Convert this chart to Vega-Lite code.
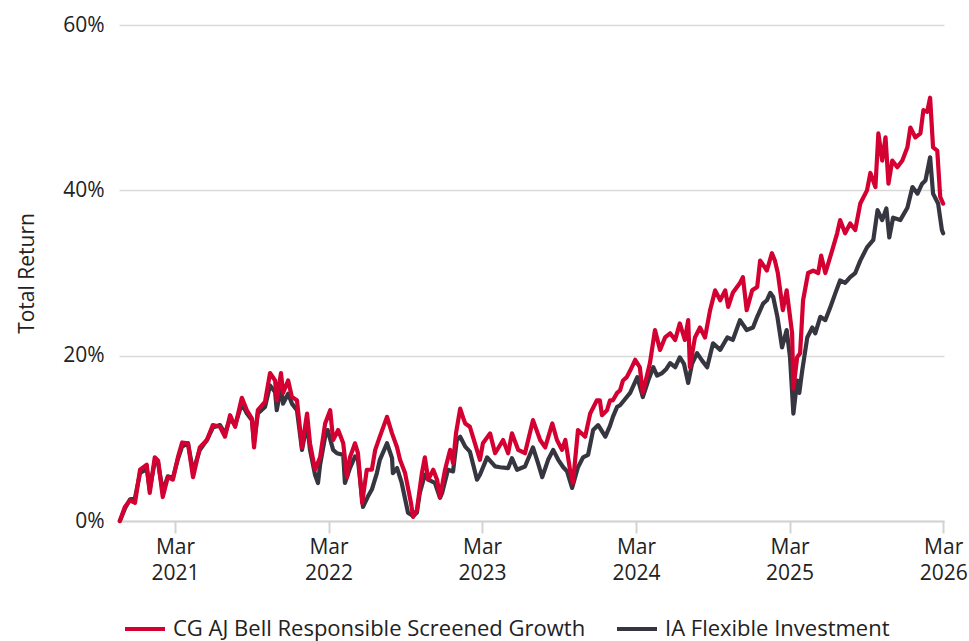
{
  "$schema": "https://vega.github.io/schema/vega-lite/v6.json",
  "width": 825,
  "height": 496,
  "autosize": "none",
  "padding": {"left": 119, "top": 25, "right": 25, "bottom": 120},
  "background": "white",
  "config": {
    "view": {"stroke": null},
    "font": "Open Sans",
    "axis": {
      "labelFont": "Open Sans",
      "labelFontSize": 21,
      "labelColor": "#222222",
      "titleFont": "Open Sans",
      "titleFontSize": 21,
      "titleFontWeight": "normal",
      "titleColor": "#222222"
    },
    "legend": {"labelFont": "Open Sans"}
  },
  "datasets": {
    "cg": [
      {"d":"2020-10-21","v":0},{"d":"2020-11-02","v":1.7},{"d":"2020-11-14","v":2.5},{"d":"2020-11-26","v":2.2},
      {"d":"2020-12-08","v":6.2},{"d":"2020-12-24","v":6.8},{"d":"2020-12-31","v":3.4},{"d":"2021-01-12","v":7.7},
      {"d":"2021-01-20","v":7.3},{"d":"2021-01-31","v":2.9},{"d":"2021-02-12","v":5.3},{"d":"2021-02-24","v":5.0},
      {"d":"2021-03-08","v":7.7},{"d":"2021-03-18","v":9.5},{"d":"2021-04-01","v":9.4},{"d":"2021-04-13","v":5.3},
      {"d":"2021-04-29","v":8.9},{"d":"2021-05-16","v":9.8},{"d":"2021-05-30","v":11.6},{"d":"2021-06-16","v":11.4},
      {"d":"2021-06-28","v":10.2},{"d":"2021-07-10","v":12.8},{"d":"2021-07-22","v":11.4},{"d":"2021-08-07","v":14.9},
      {"d":"2021-08-19","v":13.4},{"d":"2021-08-31","v":12.4},{"d":"2021-09-05","v":8.9},{"d":"2021-09-14","v":13.4},
      {"d":"2021-10-01","v":14.4},{"d":"2021-10-13","v":17.9},{"d":"2021-10-25","v":17.0},{"d":"2021-10-29","v":14.6},
      {"d":"2021-11-08","v":17.9},{"d":"2021-11-13","v":15.5},{"d":"2021-11-25","v":17.0},{"d":"2021-12-04","v":15.0},
      {"d":"2021-12-16","v":14.6},{"d":"2021-12-28","v":8.9},{"d":"2022-01-09","v":13.0},{"d":"2022-01-16","v":9.4},
      {"d":"2022-01-28","v":6.2},{"d":"2022-02-09","v":7.7},{"d":"2022-02-21","v":11.8},{"d":"2022-03-05","v":13.4},
      {"d":"2022-03-12","v":9.8},{"d":"2022-03-24","v":11.0},{"d":"2022-04-05","v":9.4},{"d":"2022-04-14","v":5.3},
      {"d":"2022-04-21","v":7.7},{"d":"2022-05-03","v":9.4},{"d":"2022-05-10","v":8.2},{"d":"2022-05-20","v":2.2},
      {"d":"2022-05-31","v":6.2},{"d":"2022-06-12","v":6.2},{"d":"2022-06-20","v":8.6},{"d":"2022-07-01","v":10.2},
      {"d":"2022-07-18","v":12.6},{"d":"2022-07-30","v":10.6},{"d":"2022-08-11","v":8.9},{"d":"2022-08-18","v":7.4},
      {"d":"2022-08-30","v":5.8},{"d":"2022-09-13","v":2.2},{"d":"2022-09-18","v":0.5},{"d":"2022-09-27","v":1.3},
      {"d":"2022-10-09","v":5.8},{"d":"2022-10-16","v":7.7},{"d":"2022-10-24","v":5.0},{"d":"2022-11-05","v":6.2},
      {"d":"2022-11-14","v":5.0},{"d":"2022-11-21","v":2.9},{"d":"2022-12-03","v":6.2},{"d":"2022-12-15","v":8.6},
      {"d":"2022-12-22","v":7.0},{"d":"2022-12-29","v":10.6},{"d":"2023-01-08","v":13.6},{"d":"2023-01-15","v":12.5},
      {"d":"2023-01-20","v":11.8},{"d":"2023-01-31","v":11.4},{"d":"2023-02-12","v":9.4},{"d":"2023-02-24","v":7.4},
      {"d":"2023-03-03","v":9.4},{"d":"2023-03-20","v":10.6},{"d":"2023-04-01","v":8.2},{"d":"2023-04-20","v":9.8},
      {"d":"2023-05-02","v":8.2},{"d":"2023-05-11","v":10.6},{"d":"2023-05-26","v":8.6},{"d":"2023-06-11","v":8.2},
      {"d":"2023-06-30","v":12.2},{"d":"2023-07-17","v":9.8},{"d":"2023-07-29","v":8.9},{"d":"2023-08-15","v":11.8},
      {"d":"2023-08-26","v":9.8},{"d":"2023-09-07","v":8.6},{"d":"2023-09-15","v":9.8},{"d":"2023-09-26","v":6.2},
      {"d":"2023-10-03","v":4.6},{"d":"2023-10-15","v":11.0},{"d":"2023-11-01","v":10.2},{"d":"2023-11-13","v":13.0},
      {"d":"2023-11-29","v":14.6},{"d":"2023-12-06","v":14.6},{"d":"2023-12-11","v":12.8},{"d":"2023-12-23","v":13.4},
      {"d":"2023-12-30","v":14.6},{"d":"2024-01-06","v":14.6},{"d":"2024-01-16","v":15.5},{"d":"2024-01-23","v":15.8},
      {"d":"2024-01-30","v":17.0},{"d":"2024-02-08","v":17.4},{"d":"2024-02-16","v":18.2},{"d":"2024-02-28","v":19.5},
      {"d":"2024-03-10","v":18.6},{"d":"2024-03-17","v":15.5},{"d":"2024-04-03","v":19.1},{"d":"2024-04-15","v":23.1},
      {"d":"2024-04-27","v":20.7},{"d":"2024-05-09","v":22.2},{"d":"2024-05-21","v":22.7},{"d":"2024-06-02","v":21.9},
      {"d":"2024-06-13","v":23.9},{"d":"2024-06-25","v":21.9},{"d":"2024-07-03","v":24.3},{"d":"2024-07-07","v":18.6},
      {"d":"2024-07-19","v":22.2},{"d":"2024-07-31","v":23.4},{"d":"2024-08-12","v":22.2},{"d":"2024-08-24","v":25.5},
      {"d":"2024-09-05","v":27.9},{"d":"2024-09-17","v":26.7},{"d":"2024-09-29","v":27.9},{"d":"2024-10-06","v":25.9},
      {"d":"2024-10-17","v":27.6},{"d":"2024-11-03","v":28.8},{"d":"2024-11-10","v":29.5},{"d":"2024-11-19","v":25.5},
      {"d":"2024-12-02","v":27.9},{"d":"2024-12-14","v":28.3},{"d":"2024-12-21","v":31.5},{"d":"2025-01-06","v":30.3},
      {"d":"2025-01-18","v":32.4},{"d":"2025-01-25","v":31.5},{"d":"2025-02-01","v":30.0},{"d":"2025-02-13","v":25.5},
      {"d":"2025-02-22","v":27.9},{"d":"2025-03-07","v":22.7},{"d":"2025-03-10","v":16.0},{"d":"2025-03-19","v":19.8},
      {"d":"2025-03-26","v":20.3},{"d":"2025-04-02","v":26.7},{"d":"2025-04-14","v":30.0},{"d":"2025-04-26","v":30.3},
      {"d":"2025-05-08","v":30.0},{"d":"2025-05-15","v":32.1},{"d":"2025-05-25","v":30.0},{"d":"2025-06-10","v":32.7},
      {"d":"2025-06-22","v":34.8},{"d":"2025-06-29","v":36.4},{"d":"2025-07-11","v":34.8},{"d":"2025-07-23","v":36.0},
      {"d":"2025-08-04","v":35.2},{"d":"2025-08-16","v":38.4},{"d":"2025-09-01","v":40.0},{"d":"2025-09-09","v":42.1},
      {"d":"2025-09-21","v":40.4},{"d":"2025-09-28","v":46.9},{"d":"2025-10-07","v":43.6},{"d":"2025-10-15","v":46.4},
      {"d":"2025-10-22","v":40.8},{"d":"2025-10-31","v":43.6},{"d":"2025-11-12","v":42.8},{"d":"2025-11-24","v":43.6},
      {"d":"2025-12-06","v":45.2},{"d":"2025-12-13","v":47.6},{"d":"2025-12-25","v":46.4},{"d":"2026-01-06","v":46.9},
      {"d":"2026-01-13","v":49.7},{"d":"2026-01-22","v":49.5},{"d":"2026-01-29","v":51.2},{"d":"2026-02-05","v":45.2},
      {"d":"2026-02-15","v":44.8},{"d":"2026-02-22","v":39.2},{"d":"2026-03-01","v":38.4}
    ],
    "ia": [
      {"d":"2020-10-21","v":0},{"d":"2020-11-02","v":1.5},{"d":"2020-11-14","v":2.6},{"d":"2020-11-26","v":2.8},
      {"d":"2020-12-08","v":5.8},{"d":"2020-12-24","v":6.3},{"d":"2020-12-31","v":3.8},{"d":"2021-01-12","v":7.2},
      {"d":"2021-01-20","v":7.0},{"d":"2021-01-31","v":3.6},{"d":"2021-02-12","v":5.4},{"d":"2021-02-24","v":5.2},
      {"d":"2021-03-08","v":7.5},{"d":"2021-03-18","v":9.0},{"d":"2021-04-01","v":9.4},{"d":"2021-04-13","v":6.0},
      {"d":"2021-04-29","v":8.6},{"d":"2021-05-16","v":9.8},{"d":"2021-05-30","v":11.3},{"d":"2021-06-16","v":11.6},
      {"d":"2021-06-28","v":10.6},{"d":"2021-07-10","v":12.4},{"d":"2021-07-22","v":11.6},{"d":"2021-08-07","v":14.2},
      {"d":"2021-08-19","v":13.0},{"d":"2021-08-31","v":12.2},{"d":"2021-09-05","v":9.5},{"d":"2021-09-14","v":13.0},
      {"d":"2021-10-01","v":13.8},{"d":"2021-10-13","v":16.4},{"d":"2021-10-25","v":15.6},{"d":"2021-10-29","v":13.4},
      {"d":"2021-11-08","v":16.2},{"d":"2021-11-13","v":14.2},{"d":"2021-11-25","v":15.4},{"d":"2021-12-04","v":14.2},
      {"d":"2021-12-16","v":13.4},{"d":"2021-12-28","v":8.6},{"d":"2022-01-09","v":11.8},{"d":"2022-01-16","v":8.6},
      {"d":"2022-01-28","v":5.6},{"d":"2022-02-04","v":4.6},{"d":"2022-02-09","v":6.8},{"d":"2022-02-21","v":10.2},
      {"d":"2022-02-27","v":11.0},{"d":"2022-03-12","v":8.6},{"d":"2022-03-21","v":8.2},{"d":"2022-04-05","v":8.0},
      {"d":"2022-04-09","v":4.6},{"d":"2022-04-21","v":6.4},{"d":"2022-05-03","v":7.8},{"d":"2022-05-10","v":7.4},
      {"d":"2022-05-22","v":1.7},{"d":"2022-06-02","v":2.9},{"d":"2022-06-12","v":3.8},{"d":"2022-06-24","v":5.8},
      {"d":"2022-07-01","v":7.4},{"d":"2022-07-18","v":9.4},{"d":"2022-07-30","v":7.6},{"d":"2022-08-01","v":5.8},
      {"d":"2022-08-11","v":6.4},{"d":"2022-08-22","v":4.6},{"d":"2022-09-06","v":1.0},{"d":"2022-09-18","v":0.6},
      {"d":"2022-09-27","v":1.0},{"d":"2022-10-04","v":3.4},{"d":"2022-10-16","v":5.6},{"d":"2022-10-24","v":5.0},
      {"d":"2022-11-09","v":4.6},{"d":"2022-11-21","v":2.8},{"d":"2022-11-26","v":3.4},{"d":"2022-12-10","v":6.2},
      {"d":"2022-12-22","v":6.0},{"d":"2022-12-31","v":9.8},{"d":"2023-01-08","v":10.2},{"d":"2023-01-20","v":9.0},
      {"d":"2023-01-31","v":8.4},{"d":"2023-02-17","v":5.0},{"d":"2023-02-24","v":5.6},{"d":"2023-03-13","v":7.7},
      {"d":"2023-04-01","v":6.6},{"d":"2023-04-13","v":6.5},{"d":"2023-05-02","v":6.4},{"d":"2023-05-11","v":7.6},
      {"d":"2023-05-23","v":6.2},{"d":"2023-06-11","v":6.6},{"d":"2023-06-30","v":8.9},{"d":"2023-07-12","v":7.0},
      {"d":"2023-07-22","v":5.3},{"d":"2023-08-05","v":7.4},{"d":"2023-08-17","v":8.6},{"d":"2023-08-29","v":7.4},
      {"d":"2023-09-10","v":6.5},{"d":"2023-09-19","v":6.0},{"d":"2023-10-01","v":4.0},{"d":"2023-10-15","v":6.5},
      {"d":"2023-10-27","v":7.7},{"d":"2023-11-08","v":8.0},{"d":"2023-11-20","v":11.0},{"d":"2023-12-02","v":11.6},
      {"d":"2023-12-19","v":10.2},{"d":"2023-12-30","v":11.5},{"d":"2024-01-06","v":12.6},{"d":"2024-01-16","v":13.8},
      {"d":"2024-01-23","v":14.0},{"d":"2024-02-08","v":15.0},{"d":"2024-02-16","v":15.5},{"d":"2024-03-04","v":17.4},
      {"d":"2024-03-17","v":15.0},{"d":"2024-03-30","v":17.0},{"d":"2024-04-11","v":18.6},{"d":"2024-04-20","v":17.6},
      {"d":"2024-05-02","v":17.9},{"d":"2024-05-12","v":18.4},{"d":"2024-05-21","v":19.1},{"d":"2024-06-02","v":18.6},
      {"d":"2024-06-13","v":19.8},{"d":"2024-06-23","v":19.0},{"d":"2024-07-03","v":16.7},{"d":"2024-07-12","v":19.0},
      {"d":"2024-07-24","v":20.3},{"d":"2024-08-05","v":19.4},{"d":"2024-08-17","v":18.6},{"d":"2024-08-31","v":21.5},
      {"d":"2024-09-17","v":20.7},{"d":"2024-10-04","v":22.2},{"d":"2024-10-17","v":21.9},{"d":"2024-11-03","v":24.3},
      {"d":"2024-11-19","v":23.1},{"d":"2024-12-04","v":23.4},{"d":"2024-12-14","v":24.7},{"d":"2024-12-28","v":26.3},
      {"d":"2025-01-06","v":26.7},{"d":"2025-01-14","v":27.6},{"d":"2025-01-21","v":27.1},{"d":"2025-01-31","v":24.7},
      {"d":"2025-02-11","v":21.0},{"d":"2025-02-22","v":23.1},{"d":"2025-03-02","v":19.8},{"d":"2025-03-10","v":13.0},
      {"d":"2025-03-19","v":17.0},{"d":"2025-03-24","v":15.5},{"d":"2025-03-31","v":18.2},{"d":"2025-04-12","v":22.2},
      {"d":"2025-04-24","v":23.4},{"d":"2025-05-01","v":22.7},{"d":"2025-05-13","v":24.7},{"d":"2025-05-25","v":24.3},
      {"d":"2025-06-06","v":25.9},{"d":"2025-06-18","v":27.6},{"d":"2025-06-29","v":29.1},{"d":"2025-07-11","v":28.8},
      {"d":"2025-07-23","v":29.5},{"d":"2025-08-04","v":30.0},{"d":"2025-08-16","v":31.5},{"d":"2025-09-01","v":33.1},
      {"d":"2025-09-16","v":34.0},{"d":"2025-09-26","v":37.6},{"d":"2025-10-07","v":36.4},{"d":"2025-10-17","v":37.8},
      {"d":"2025-10-24","v":34.3},{"d":"2025-11-02","v":36.7},{"d":"2025-11-19","v":36.4},{"d":"2025-12-06","v":37.9},
      {"d":"2025-12-18","v":40.4},{"d":"2025-12-30","v":39.6},{"d":"2026-01-10","v":40.8},{"d":"2026-01-18","v":41.2},
      {"d":"2026-01-29","v":44.0},{"d":"2026-02-05","v":39.6},{"d":"2026-02-17","v":38.4},{"d":"2026-02-26","v":35.2},
      {"d":"2026-03-01","v":34.8}
    ]
  },
  "encoding": {
    "x": {
      "field": "d",
      "type": "temporal",
      "scale": {
        "type": "utc",
        "domain": [
          {"year": 2020, "month": 10, "date": 19, "utc": true},
          {"year": 2026, "month": 3, "date": 3, "utc": true}
        ]
      },
      "axis": {
        "title": null,
        "grid": false,
        "domainColor": "#d3d3d3",
        "domainWidth": 2,
        "tickColor": "#d3d3d3",
        "tickWidth": 2,
        "tickSize": 12,
        "labelPadding": 3,
        "labelBaseline": "top",
        "labelLineHeight": 26,
        "labelFlush": false,
        "labelOverlap": false,
        "values": [
          {"year": 2021, "month": 3, "date": 1, "utc": true},
          {"year": 2022, "month": 3, "date": 1, "utc": true},
          {"year": 2023, "month": 3, "date": 1, "utc": true},
          {"year": 2024, "month": 3, "date": 1, "utc": true},
          {"year": 2025, "month": 3, "date": 1, "utc": true},
          {"year": 2026, "month": 3, "date": 1, "utc": true}
        ],
        "labelExpr": "[utcFormat(datum.value, '%b'), utcFormat(datum.value, '%Y')]"
      }
    },
    "y": {
      "field": "v",
      "type": "quantitative",
      "scale": {"domain": [0, 60], "nice": false, "zero": true},
      "axis": {
        "title": "Total Return",
        "titlePadding": 25,
        "domain": false,
        "ticks": false,
        "grid": true,
        "gridColor": "#d9d9d9",
        "gridWidth": 1.5,
        "values": [0, 20, 40, 60],
        "labelExpr": "datum.value + '%'",
        "labelPadding": 15
      }
    }
  },
  "layer": [
    {
      "data": {"name": "ia"},
      "mark": {"type": "line", "strokeWidth": 4.2, "strokeJoin": "round", "strokeCap": "round", "clip": false},
      "encoding": {
        "color": {
          "datum": "IA Flexible Investment",
          "scale": {
            "domain": ["CG AJ Bell Responsible Screened Growth", "IA Flexible Investment"],
            "range": ["#d50032", "#35363f"]
          },
          "legend": {
            "title": null,
            "orient": "none",
            "direction": "horizontal",
            "legendX": 4,
            "legendY": 582,
            "padding": 0,
            "symbolType": "stroke",
            "symbolSize": 1600,
            "symbolStrokeWidth": 4,
            "labelFontSize": 22,
            "labelColor": "#222222",
            "labelLimit": 700,
            "labelOffset": 6,
            "columnPadding": 23
          }
        }
      }
    },
    {
      "data": {"name": "cg"},
      "mark": {"type": "line", "strokeWidth": 4.2, "strokeJoin": "round", "strokeCap": "round", "clip": false},
      "encoding": {
        "color": {"datum": "CG AJ Bell Responsible Screened Growth"}
      }
    }
  ]
}
